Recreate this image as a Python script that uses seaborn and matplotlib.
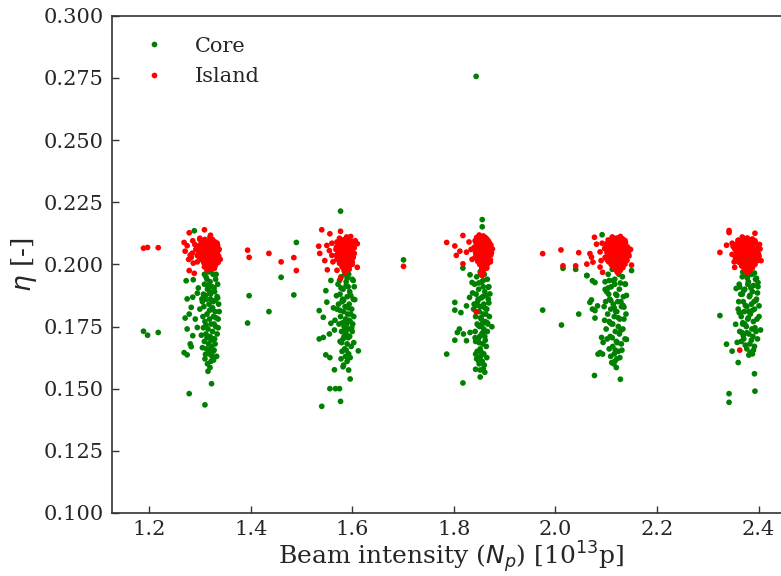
import matplotlib
matplotlib.use("Agg")
import matplotlib.pyplot as plt
import seaborn as sns
import pandas as pd
from matplotlib.ticker import FormatStrFormatter

# ---------------- data ----------------
core_a = [(1.189,0.1731),(1.197,0.1715),(1.218,0.1726),(1.289,0.2135),(1.316,0.157),(1.323,0.152),
          (1.279,0.148),(1.310,0.1435),
          (1.273,0.1934),(1.287,0.1938),(1.275,0.1861),(1.286,0.1868),(1.295,0.1884),(1.283,0.1827),
          (1.279,0.180),(1.271,0.1784),(1.291,0.178),(1.275,0.174),(1.295,0.1746),(1.281,0.168),
          (1.269,0.1645),(1.275,0.1636),(1.283,0.1669),(1.304,0.1861),(1.300,0.182),(1.305,0.1665),
          (1.311,0.1638),(1.286,0.1713),
          (1.318,0.197),(1.326,0.196),(1.312,0.195),(1.331,0.194),(1.320,0.193),(1.309,0.192),(1.335,0.192),
          (1.324,0.191),(1.315,0.190),(1.329,0.189),(1.307,0.188),(1.321,0.188),(1.334,0.187),(1.313,0.186),
          (1.326,0.185),(1.318,0.184),(1.337,0.184),(1.308,0.183),(1.323,0.182),(1.330,0.181),(1.314,0.180),
          (1.327,0.179),(1.319,0.178),(1.336,0.178),(1.310,0.177),(1.322,0.176),(1.331,0.175),(1.316,0.174),
          (1.325,0.173),(1.312,0.172),(1.334,0.172),(1.320,0.171),(1.327,0.170),(1.309,0.169),(1.317,0.168),
          (1.330,0.168),(1.323,0.167),(1.313,0.166),(1.326,0.165),(1.318,0.164),(1.333,0.163),(1.310,0.162),
          (1.322,0.161),(1.315,0.160),(1.328,0.176),(1.306,0.179),(1.338,0.181),(1.321,0.186),(1.329,0.170),
          (1.314,0.194),(1.332,0.196),(1.305,0.185),(1.324,0.163),(1.319,0.189),
          (1.316,0.1915),(1.328,0.1905),(1.311,0.1875),(1.335,0.1865),(1.319,0.1815),(1.307,0.1745),
          (1.332,0.1785),(1.322,0.1695),(1.314,0.1705),(1.328,0.1655),(1.320,0.1585),(1.312,0.1755),
          (1.336,0.1745),(1.325,0.1825),(1.309,0.1960),(1.330,0.1855),(1.317,0.1655),(1.327,0.1615),
          (1.303,0.1715),(1.297,0.1905)]

island_a = [(1.189,0.2065),(1.197,0.2068),(1.218,0.2067),
            (1.279,0.2127),(1.309,0.2139),(1.269,0.2088),(1.271,0.2053),(1.281,0.2037),(1.279,0.1975),
            (1.289,0.1964),(1.321,0.2117),(1.275,0.2075),(1.285,0.2045),(1.290,0.2080),(1.295,0.2010),
            (1.278,0.2020),(1.300,0.2100),(1.287,0.2005),
            (1.300,0.2105),(1.310,0.2100),(1.320,0.2095),(1.330,0.2090),(1.305,0.2085),(1.315,0.2080),
            (1.325,0.2082),(1.335,0.2075),(1.298,0.2070),(1.308,0.2068),(1.318,0.2065),(1.328,0.2062),
            (1.338,0.2060),(1.303,0.2055),(1.313,0.2052),(1.323,0.2050),(1.333,0.2048),(1.297,0.2042),
            (1.307,0.2040),(1.317,0.2038),(1.327,0.2035),(1.337,0.2033),(1.302,0.2028),(1.312,0.2025),
            (1.322,0.2022),(1.332,0.2020),(1.306,0.2015),(1.316,0.2012),(1.326,0.2010),(1.336,0.2008),
            (1.311,0.2002),(1.321,0.2000),(1.331,0.1998),(1.309,0.1990),(1.319,0.1988),(1.329,0.1985),
            (1.314,0.1978),(1.324,0.1980),(1.318,0.2058),(1.324,0.2072),(1.312,0.2088),(1.328,0.2015),
            (1.304,0.2035),(1.334,0.2040),(1.316,0.2030),(1.320,0.2110),(1.313,0.2005),(1.326,0.1995),
            (1.303,0.2095),(1.314,0.2092),(1.325,0.2100),(1.334,0.2085),(1.300,0.2078),(1.311,0.2073),
            (1.321,0.2078),(1.331,0.2070),(1.302,0.2062),(1.313,0.2060),(1.323,0.2058),(1.335,0.2052),
            (1.300,0.2048),(1.310,0.2045),(1.321,0.2043),(1.331,0.2040),(1.299,0.2030),(1.309,0.2032),
            (1.319,0.2028),(1.329,0.2026),(1.304,0.2020),(1.314,0.2018),(1.324,0.2016),(1.334,0.2013),
            (1.308,0.2006),(1.318,0.2004),(1.328,0.2002),(1.316,0.1995),(1.323,0.1988),(1.286,0.2095),
            (1.292,0.2060),(1.283,0.2028),(1.295,0.2035),(1.340,0.2020)]

core_b = [(1.577,0.2214),(1.540,0.1429),(1.577,0.1449),(1.556,0.150),(1.567,0.150),(1.575,0.150),
          (1.596,0.1539),(1.565,0.1576),(1.582,0.1588),
          (1.548,0.1894),(1.558,0.1935),(1.535,0.1814),(1.543,0.1787),(1.550,0.1848),(1.563,0.1825),
          (1.558,0.1763),(1.535,0.1700),(1.543,0.1706),(1.555,0.172),(1.565,0.1736),(1.548,0.1636),
          (1.556,0.1625),(1.569,0.1874),(1.612,0.1652),(1.605,0.1858),(1.602,0.1935),
          (1.585,0.197),(1.593,0.196),(1.578,0.195),(1.600,0.194),(1.588,0.193),(1.572,0.192),(1.604,0.191),
          (1.582,0.190),(1.595,0.189),(1.576,0.188),(1.590,0.187),(1.602,0.186),(1.580,0.185),(1.594,0.184),
          (1.586,0.183),(1.570,0.182),(1.599,0.182),(1.583,0.181),(1.591,0.180),(1.577,0.179),(1.603,0.179),
          (1.587,0.178),(1.596,0.177),(1.574,0.176),(1.584,0.175),(1.592,0.174),(1.579,0.173),(1.600,0.173),
          (1.588,0.172),(1.595,0.171),(1.582,0.170),(1.576,0.169),(1.590,0.168),(1.598,0.167),(1.585,0.166),
          (1.580,0.165),(1.593,0.164),(1.587,0.163),(1.578,0.162),(1.590,0.161),(1.584,0.171),(1.589,0.176),
          (1.581,0.186),(1.597,0.180),(1.573,0.184),(1.592,0.191),(1.586,0.196),(1.601,0.176),
          (1.588,0.1915),(1.578,0.1905),(1.597,0.1875),(1.583,0.1855),(1.592,0.1825),(1.576,0.1815),
          (1.594,0.1775),(1.581,0.1765),(1.599,0.1745),(1.586,0.1735),(1.579,0.1685),(1.592,0.1705),
          (1.588,0.1655),(1.596,0.1625),(1.583,0.1595),(1.593,0.1575),(1.575,0.1935),(1.603,0.1685),
          (1.566,0.1775),(1.590,0.1945)]

island_b = [(1.540,0.2139),(1.556,0.2123),(1.577,0.2133),(1.597,0.2112),(1.534,0.2073),(1.536,0.2044),
            (1.546,0.2015),(1.551,0.1978),(1.610,0.2083),(1.610,0.1988),(1.577,0.1944),(1.550,0.2076),
            (1.560,0.2036),(1.570,0.1976),
            (1.575,0.2105),(1.585,0.2100),(1.595,0.2098),(1.570,0.2090),(1.580,0.2088),(1.590,0.2085),
            (1.600,0.2082),(1.574,0.2075),(1.584,0.2072),(1.594,0.2070),(1.604,0.2066),(1.568,0.2060),
            (1.578,0.2058),(1.588,0.2055),(1.598,0.2052),(1.572,0.2045),(1.582,0.2042),(1.592,0.2040),
            (1.602,0.2036),(1.576,0.2030),(1.586,0.2028),(1.596,0.2025),(1.570,0.2020),(1.580,0.2016),
            (1.590,0.2013),(1.600,0.2010),(1.575,0.2004),(1.585,0.2001),(1.595,0.1998),(1.580,0.1990),
            (1.590,0.1986),(1.584,0.1976),(1.594,0.1980),(1.587,0.1968),(1.583,0.2094),(1.591,0.2062),
            (1.579,0.2035),(1.597,0.2045),(1.587,0.2008),(1.573,0.2068),(1.599,0.2021),(1.589,0.2110),
            (1.578,0.2098),(1.590,0.2095),(1.600,0.2090),(1.573,0.2082),(1.585,0.2080),(1.596,0.2076),
            (1.569,0.2070),(1.579,0.2066),(1.589,0.2062),(1.600,0.2058),(1.574,0.2052),(1.584,0.2050),
            (1.594,0.2047),(1.604,0.2044),(1.569,0.2036),(1.580,0.2034),(1.591,0.2031),(1.602,0.2028),
            (1.574,0.2022),(1.585,0.2020),(1.595,0.2016),(1.578,0.2008),(1.590,0.2004),(1.600,0.2000),
            (1.583,0.1995),(1.594,0.1991),(1.589,0.1980),(1.560,0.2085),(1.555,0.2055),(1.562,0.2010),
            (1.606,0.2095)]

core_c = [(1.844,0.2756),(1.856,0.218),(1.856,0.2151),(1.818,0.1523),(1.852,0.1547),(1.861,0.1566),
          (1.843,0.1578),(1.786,0.1639),(1.802,0.1695),
          (1.802,0.1847),(1.802,0.1816),(1.814,0.1806),(1.825,0.1833),(1.831,0.1867),(1.836,0.1927),
          (1.832,0.1958),(1.818,0.1985),(1.811,0.1740),(1.819,0.172),(1.832,0.1726),(1.807,0.1726),
          (1.825,0.1693),(1.843,0.1639),(1.849,0.1612),(1.875,0.1749),(1.871,0.1881),(1.868,0.1908),
          (1.852,0.197),(1.860,0.196),(1.845,0.195),(1.866,0.194),(1.855,0.193),(1.841,0.192),(1.869,0.191),
          (1.849,0.190),(1.861,0.189),(1.844,0.188),(1.857,0.187),(1.868,0.186),(1.847,0.185),(1.859,0.184),
          (1.852,0.183),(1.839,0.182),(1.865,0.182),(1.850,0.181),(1.858,0.180),(1.843,0.179),(1.870,0.179),
          (1.854,0.178),(1.862,0.177),(1.846,0.176),(1.851,0.175),(1.859,0.174),(1.842,0.173),(1.866,0.173),
          (1.855,0.172),(1.861,0.171),(1.848,0.170),(1.843,0.169),(1.857,0.168),(1.864,0.167),(1.852,0.166),
          (1.846,0.165),(1.859,0.164),(1.853,0.163),(1.845,0.162),(1.856,0.161),(1.850,0.160),(1.858,0.158),
          (1.851,0.171),(1.856,0.176),(1.848,0.186),(1.863,0.180),(1.840,0.184),(1.858,0.191),(1.853,0.196),
          (1.867,0.176),
          (1.858,0.1935),(1.849,0.1925),(1.863,0.1875),(1.854,0.1865),(1.845,0.1835),(1.861,0.1825),
          (1.853,0.1785),(1.866,0.1765),(1.848,0.1755),(1.857,0.1725),(1.850,0.1685),(1.862,0.1695),
          (1.855,0.1645),(1.847,0.1625),(1.860,0.1595),(1.852,0.1575),(1.869,0.1845),(1.842,0.1705),
          (1.837,0.1885),(1.865,0.1625)]

island_c = [(1.786,0.2088),(1.802,0.2074),(1.818,0.2116),(1.805,0.2036),(1.818,0.2002),(1.812,0.2053),
            (1.825,0.2049),(1.876,0.2062),(1.864,0.2009),(1.856,0.1955),(1.844,0.1809),
            (1.850,0.2118),(1.858,0.2114),(1.845,0.2108),(1.855,0.2105),(1.865,0.2102),(1.842,0.2095),
            (1.852,0.2092),(1.862,0.2090),(1.870,0.2086),(1.847,0.2080),(1.857,0.2077),(1.867,0.2074),
            (1.840,0.2068),(1.850,0.2066),(1.860,0.2063),(1.870,0.2060),(1.844,0.2055),(1.854,0.2052),
            (1.864,0.2049),(1.874,0.2046),(1.848,0.2040),(1.858,0.2037),(1.868,0.2034),(1.842,0.2028),
            (1.852,0.2025),(1.862,0.2022),(1.872,0.2018),(1.847,0.2012),(1.857,0.2009),(1.867,0.2006),
            (1.851,0.2000),(1.861,0.1996),(1.855,0.1988),(1.865,0.1985),(1.858,0.1975),(1.853,0.1966),
            (1.856,0.2085),(1.846,0.2100),(1.863,0.2030),(1.853,0.2044),(1.869,0.2068),(1.849,0.2016),
            (1.853,0.2110),(1.862,0.2108),(1.848,0.2098),(1.858,0.2097),(1.868,0.2094),(1.844,0.2086),
            (1.853,0.2084),(1.863,0.2082),(1.873,0.2078),(1.845,0.2072),(1.855,0.2070),(1.865,0.2066),
            (1.848,0.2058),(1.858,0.2056),(1.868,0.2053),(1.843,0.2046),(1.853,0.2036),(1.863,0.2040),
            (1.873,0.2038),(1.847,0.2030),(1.857,0.2028),(1.867,0.2024),(1.852,0.2016),(1.862,0.2014),
            (1.872,0.2010),(1.856,0.2004),(1.866,0.2000),(1.860,0.1990),(1.855,0.1980),(1.834,0.2060),
            (1.830,0.2090),(1.836,0.2020)]

core_d = [(2.077,0.1553),(2.128,0.1538),(2.117,0.161),(2.092,0.2119),
          (2.062,0.1955),(2.073,0.1934),(2.078,0.1927),(2.071,0.1857),(2.068,0.1847),(2.078,0.1814),
          (2.073,0.182),(2.083,0.1833),(2.078,0.1784),(2.091,0.1706),(2.094,0.1686),(2.088,0.1645),
          (2.093,0.1639),(2.084,0.1639),(2.150,0.1975),(2.137,0.1921),(2.140,0.1698),(2.135,0.1828),
          (2.098,0.1899),
          (2.112,0.198),(2.122,0.197),(2.104,0.196),(2.132,0.195),(2.117,0.194),(2.098,0.193),(2.138,0.192),
          (2.110,0.191),(2.126,0.190),(2.101,0.189),(2.119,0.188),(2.134,0.187),(2.107,0.186),(2.123,0.185),
          (2.114,0.184),(2.096,0.183),(2.130,0.183),(2.109,0.182),(2.121,0.181),(2.103,0.180),(2.139,0.180),
          (2.116,0.179),(2.127,0.178),(2.106,0.177),(2.113,0.176),(2.124,0.175),(2.100,0.174),(2.133,0.174),
          (2.118,0.173),(2.126,0.172),(2.108,0.171),(2.102,0.170),(2.120,0.169),(2.130,0.168),(2.113,0.167),
          (2.106,0.166),(2.124,0.165),(2.116,0.164),(2.109,0.163),(2.121,0.162),(2.115,0.160),(2.111,0.176),
          (2.119,0.181),(2.129,0.185),(2.105,0.188),(2.135,0.178),(2.117,0.192),(2.125,0.196),(2.099,0.185),
          (2.137,0.170),
          (2.114,0.1935),(2.128,0.1925),(2.104,0.1905),(2.121,0.1875),(2.109,0.1855),(2.133,0.1835),
          (2.116,0.1825),(2.124,0.1785),(2.108,0.1765),(2.129,0.1735),(2.112,0.1705),(2.122,0.1685),
          (2.118,0.1655),(2.127,0.1625),(2.111,0.1605),(2.120,0.1585),(2.140,0.1875),(2.097,0.1775),
          (2.131,0.1655),(2.106,0.1935)]

island_d = [(2.077,0.2109),(2.128,0.2112),(2.068,0.2043),(2.074,0.2009),(2.088,0.1989),(2.093,0.1968),
            (2.150,0.1997),(2.140,0.2068),(2.081,0.2081),(2.071,0.2029),
            (2.112,0.2110),(2.122,0.2106),(2.132,0.2103),(2.104,0.2098),(2.116,0.2095),(2.127,0.2092),
            (2.138,0.2088),(2.100,0.2082),(2.110,0.2079),(2.121,0.2076),(2.132,0.2073),(2.142,0.2070),
            (2.097,0.2064),(2.107,0.2061),(2.118,0.2058),(2.129,0.2055),(2.140,0.2052),(2.102,0.2046),
            (2.113,0.2043),(2.124,0.2040),(2.135,0.2037),(2.145,0.2034),(2.098,0.2028),(2.109,0.2025),
            (2.120,0.2022),(2.131,0.2019),(2.141,0.2016),(2.105,0.2010),(2.116,0.2007),(2.127,0.2004),
            (2.137,0.2001),(2.112,0.1994),(2.123,0.1990),(2.133,0.1987),(2.118,0.1980),(2.128,0.1976),
            (2.122,0.1968),(2.119,0.2088),(2.126,0.2066),(2.108,0.2034),(2.136,0.2045),(2.115,0.2015),
            (2.130,0.2028),
            (2.117,0.2104),(2.127,0.2100),(2.137,0.2096),(2.108,0.2090),(2.121,0.2086),(2.132,0.2083),
            (2.104,0.2072),(2.115,0.2070),(2.126,0.2080),(2.137,0.2063),(2.101,0.2056),(2.112,0.2052),
            (2.123,0.2050),(2.134,0.2047),(2.144,0.2043),(2.105,0.2038),(2.117,0.2034),(2.128,0.2031),
            (2.139,0.2027),(2.102,0.2018),(2.113,0.2020),(2.124,0.2013),(2.135,0.2010),(2.110,0.2000),
            (2.121,0.1998),(2.131,0.1995),(2.116,0.1988),(2.126,0.1984),(2.088,0.2050),(2.092,0.2085),
            (2.090,0.2015),(2.148,0.2060)]

core_e = [(2.342,0.148),(2.342,0.1445),(2.393,0.149),(2.392,0.156),(2.360,0.1605),(2.337,0.1679),
          (2.348,0.1651),(2.358,0.1686),(2.324,0.1794),(2.388,0.164),
          (2.363,0.1909),(2.356,0.1903),(2.362,0.1806),(2.355,0.1759),(2.367,0.1726),(2.370,0.1713),
          (2.399,0.1927),(2.401,0.1833),(2.404,0.1736),(2.396,0.1944),(2.376,0.1958),(2.369,0.1969),
          (2.375,0.197),(2.385,0.196),(2.368,0.195),(2.394,0.194),(2.380,0.193),(2.362,0.192),(2.399,0.191),
          (2.373,0.190),(2.388,0.189),(2.365,0.188),(2.382,0.187),(2.396,0.186),(2.370,0.185),(2.386,0.184),
          (2.377,0.183),(2.360,0.182),(2.392,0.182),(2.372,0.181),(2.384,0.180),(2.366,0.179),(2.401,0.179),
          (2.379,0.178),(2.390,0.177),(2.369,0.176),(2.376,0.175),(2.387,0.174),(2.363,0.173),(2.395,0.173),
          (2.381,0.172),(2.389,0.171),(2.371,0.170),(2.366,0.169),(2.383,0.168),(2.392,0.167),(2.377,0.166),
          (2.373,0.176),(2.381,0.181),(2.391,0.185),(2.368,0.188),(2.397,0.178),(2.379,0.192),(2.387,0.196),
          (2.361,0.185),(2.398,0.170),(2.384,0.1645),
          (2.378,0.1945),(2.390,0.1915),(2.371,0.1895),(2.383,0.1875),(2.395,0.1855),(2.374,0.1835),
          (2.388,0.1815),(2.380,0.1785),(2.369,0.1765),(2.393,0.1745),(2.377,0.1725),(2.386,0.1695),
          (2.374,0.1675),(2.390,0.1655),(2.381,0.1635),(2.398,0.1885),(2.364,0.1805),(2.385,0.1905),
          (2.376,0.1955),(2.392,0.1965)]

island_e = [(2.342,0.2136),(2.342,0.2128),(2.393,0.2125),(2.324,0.2048),(2.337,0.2077),(2.348,0.2085),
            (2.360,0.2096),(2.353,0.1988),(2.355,0.2022),(2.403,0.2062),(2.405,0.2015),(2.363,0.1655),
            (2.368,0.2110),(2.378,0.2106),(2.388,0.2102),(2.360,0.2097),(2.372,0.2094),(2.383,0.2090),
            (2.394,0.2087),(2.356,0.2081),(2.366,0.2078),(2.377,0.2075),(2.388,0.2072),(2.399,0.2069),
            (2.353,0.2063),(2.363,0.2060),(2.374,0.2057),(2.385,0.2054),(2.396,0.2051),(2.358,0.2045),
            (2.369,0.2042),(2.380,0.2039),(2.391,0.2036),(2.401,0.2033),(2.355,0.2027),(2.366,0.2024),
            (2.377,0.2021),(2.388,0.2018),(2.398,0.2015),(2.361,0.2009),(2.372,0.2006),(2.383,0.2003),
            (2.393,0.2000),(2.367,0.1993),(2.378,0.1989),(2.388,0.1986),(2.373,0.1979),(2.383,0.1975),
            (2.377,0.1967),(2.375,0.2088),(2.382,0.2065),(2.364,0.2033),(2.392,0.2044),(2.371,0.2014),
            (2.386,0.2027),
            (2.373,0.2103),(2.383,0.2099),(2.393,0.2095),(2.365,0.2090),(2.378,0.2085),(2.389,0.2081),
            (2.360,0.2072),(2.371,0.2068),(2.382,0.2078),(2.393,0.2062),(2.356,0.2054),(2.368,0.2052),
            (2.379,0.2048),(2.390,0.2045),(2.400,0.2042),(2.361,0.2036),(2.373,0.2032),(2.384,0.2030),
            (2.395,0.2026),(2.359,0.2018),(2.370,0.2020),(2.381,0.2012),(2.392,0.2009),(2.366,0.2001),
            (2.377,0.1998),(2.387,0.1995),(2.372,0.1985),(2.382,0.1982),(2.350,0.2072),(2.348,0.2040),
            (2.352,0.2010),(2.402,0.2080)]

core_gap = [(1.490,0.2088),(1.460,0.1948),(1.397,0.1874),(1.485,0.1877),(1.436,0.181),(1.394,0.1764),
            (1.701,0.2018),(2.015,0.1984),(2.040,0.198),(1.975,0.1816),(2.046,0.180),(2.012,0.1756),
            (2.062,0.1955)]
island_gap = [(1.394,0.2057),(1.397,0.2028),(1.436,0.2044),(1.460,0.201),(1.485,0.2027),(1.490,0.1975),
              (1.701,0.1992),(1.975,0.2043),(2.011,0.2058),(2.046,0.2047),(2.015,0.1994),(2.040,0.1994),
              (2.062,0.2001)]

series_labels = ["Core", "Island"]
x_ticks = [1.2, 1.4, 1.6, 1.8, 2.0, 2.2, 2.4]
y_ticks = [0.100, 0.125, 0.150, 0.175, 0.200, 0.225, 0.250, 0.275, 0.300]

# ---------------- build table ----------------
rows = []
for grp in (core_a, core_b, core_c, core_d, core_e, core_gap):
    rows += [(x, y, "Core") for x, y in grp]
for grp in (island_a, island_b, island_c, island_d, island_e, island_gap):
    rows += [(x, y, "Island") for x, y in grp]
df = pd.DataFrame(rows, columns=["N", "eta", "kind"])

# ---------------- plot ----------------
sns.set_theme(style="ticks")
plt.rcParams["font.family"] = ["DejaVu Serif"]
plt.rcParams["mathtext.fontset"] = "dejavusans"

fig = plt.figure(figsize=(7.81, 5.76), dpi=100)
ax = fig.add_axes([112/781, 1 - 513/576, (790 - 112)/781, (513 - 15.7)/576])

sns.scatterplot(data=df, x="N", y="eta", hue="kind", hue_order=series_labels,
                palette={"Core": "green", "Island": "red"}, s=17, linewidth=0,
                ax=ax, legend=True)

ax.set_xlim(1.127, 2.462)
ax.set_ylim(0.1, 0.3)
ax.set_xticks(x_ticks)
ax.set_yticks(y_ticks)
ax.xaxis.set_major_formatter(FormatStrFormatter("%.1f"))
ax.yaxis.set_major_formatter(FormatStrFormatter("%.3f"))
ax.tick_params(axis="both", direction="in", length=5, width=1.0, labelsize=15,
               colors="#333333", labelcolor="#262626", pad=6)
ax.tick_params(axis="x", pad=5)
for sp in ax.spines.values():
    sp.set_color("#333333")
    sp.set_linewidth(1.2)

ax.set_xlabel(r"Beam intensity ($N_p$) [10$^{13}$p]", fontsize=18, color="#262626", labelpad=0)
ax.set_ylabel(r"$\eta$ [-]", fontsize=19, color="#262626", labelpad=3)

leg = ax.legend(loc="upper left", frameon=False, fontsize=15, markerscale=1.0,
                handletextpad=1.0, labelspacing=0.55, borderaxespad=0.6)
for t in leg.get_texts():
    t.set_color("#262626")

fig.savefig("out.png", dpi=100)
